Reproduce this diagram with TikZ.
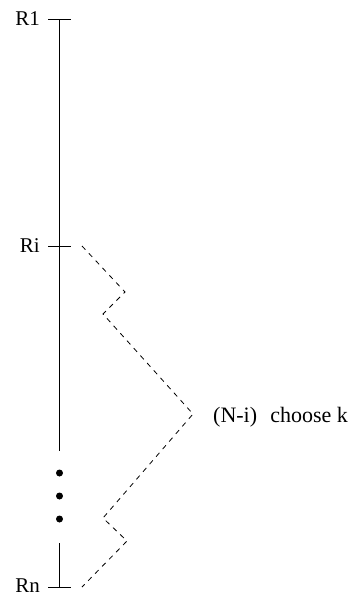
\documentclass[tikz,border=0pt]{standalone}
\usepackage{fontspec}
\setmainfont{Liberation Serif}
\begin{document}
\begin{tikzpicture}[x=1pt,y=-1pt,
  lbl/.style={font=\fontsize{21}{24}\selectfont, inner sep=0pt},
  biglbl/.style={font=\fontsize{22}{26}\selectfont, inner sep=0pt},
  axis/.style={line width=0.8pt},
  dashline/.style={line width=0.8pt, dash pattern=on 5pt off 5pt},
  dotmark/.style={circle, fill=black, inner sep=0pt, minimum size=7pt}]
\useasboundingbox (0,0) rectangle (353,596);
% vertical axis
\coordinate (top) at (59.5,19.5);
\coordinate (lineend) at (59.5,451);
\coordinate (botstart) at (59.5,543);
\coordinate (bot) at (59.5,587);
\draw[axis] (top) -- (lineend);
\draw[axis] (botstart) -- (bot);
% ticks
\coordinate (t1a) at (48,19.5); \coordinate (t1b) at (71,19.5);
\coordinate (tia) at (48,246); \coordinate (tib) at (71,246);
\coordinate (tna) at (48,587); \coordinate (tnb) at (71,587);
\draw[axis] (t1a) -- (t1b);
\draw[axis] (tia) -- (tib);
\draw[axis] (tna) -- (tnb);
% labels
\node[lbl, anchor=base east] (r1) at (40,25.5) {R1};
\node[lbl, anchor=base east] (ri) at (40,252) {Ri};
\node[lbl, anchor=base east] (rn) at (40,592.5) {Rn};
% dots
\node[dotmark] (d1) at (59.5,473) {};
\node[dotmark] (d2) at (59.5,496) {};
\node[dotmark] (d3) at (59.5,519) {};
% dashed zigzag
\coordinate (z0) at (82,246);
\coordinate (z1) at (125,292);
\coordinate (z2) at (103,314);
\coordinate (z3) at (193,414);
\coordinate (z4) at (103,518);
\coordinate (z5) at (127,541);
\coordinate (z6) at (82,587);
\draw[dashline] (z0) -- (z1) -- (z2) -- (z3) -- (z4) -- (z5) -- (z6);
\node[biglbl, anchor=west] (choose) at (213,417) {(N-i)\hspace{0.6em}choose k};
\end{tikzpicture}
\end{document}
